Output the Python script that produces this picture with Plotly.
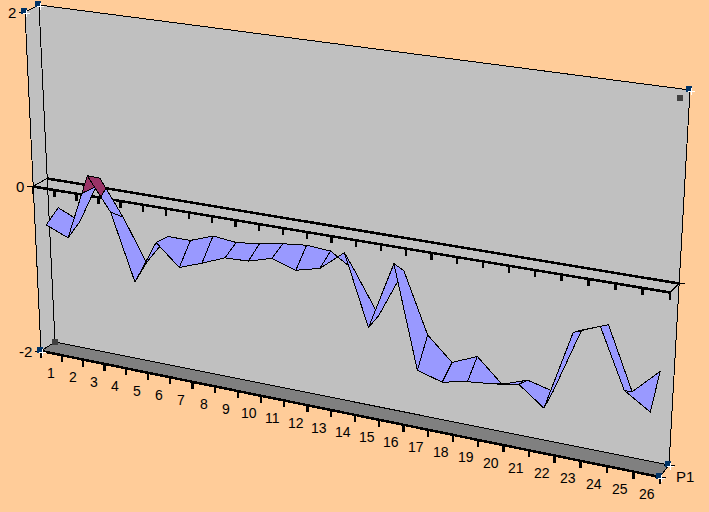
import plotly.graph_objects as go

categories = [str(i) for i in range(1, 27)]
value_ticks = [-2, 0, 2]
series_name = "P1"
front_values = [-0.45, -0.56, 0.22, -0.16, -0.95, -0.43, -0.68, -0.58, -0.47, -0.46, -0.38, -0.47, -0.4, -0.17, -0.98, -0.2, -1.36, -1.44, -1.38, -1.35, -1.3, -1.51, -0.62, -0.5, -1.15, -1.33]
back_values = [-0.33, -0.45, 0.11, -0.31, -0.81, -0.45, -0.45, -0.35, -0.38, -0.35, -0.3, -0.27, -0.29, -0.47, -0.94, -0.37, -1.06, -1.32, -1.2, -1.46, -1.36, -1.43, -0.69, -0.58, -1.27, -0.99]

BG = "#FFCC99"; WALL = "#C0C0C0"; FLOOR = "#808080"
BLUE = "#9999FF"; MAROON = "#993366"; NAVY = "#003366"
FONT = "Liberation Sans"

# Box projection: (left/right, front/back) at each value level
BOX = {2: [((25, 12), (39, 5)), ((680, 98), (690, 90))],
       0: [((33, 186.5), (47, 178.5)), ((670, 292.5), (679, 283.5))],
       -2: [((41, 351), (55, 342)), ((660, 477), (669, 465))]}
D_FRONT, D_BACK = 0.05, 0.95


def level(t, d, l):
    f = t * (0.875 + 0.125 * t)
    (a, b), (c, e) = BOX[l]
    lx, ly = a[0] + (b[0] - a[0]) * d, a[1] + (b[1] - a[1]) * d
    rx, ry = c[0] + (e[0] - c[0]) * d, c[1] + (e[1] - c[1]) * d
    return lx + (rx - lx) * f, ly + (ry - ly) * f


def P(t, d, v):
    a = level(t, d, 0)
    b = level(t, d, 2 if v > 0 else -2)
    k = abs(v) / 2
    return a[0] + (b[0] - a[0]) * k, a[1] + (b[1] - a[1]) * k


fig = go.Figure()


def poly(pts, fill=None, width=1, color="black"):
    xs = [p[0] for p in pts]
    ys = [p[1] for p in pts]
    kw = dict(fill="toself", fillcolor=fill) if fill else {}
    if fill:
        xs.append(xs[0]); ys.append(ys[0])
    fig.add_trace(go.Scatter(x=xs, y=ys, mode="lines", line=dict(color=color, width=width),
                             hoverinfo="skip", showlegend=False, **kw))


# walls and floor
poly([P(0, 0, 2), P(0, 1, 2), P(0, 1, -2), P(0, 0, -2)], WALL)
poly([P(0, 1, 2), P(1, 1, 2), P(1, 1, -2), P(0, 1, -2)], WALL)
poly([P(0, 0, -2), P(0, 1, -2), P(1, 1, -2), P(1, 0, -2)], FLOOR)
poly([P(0, 0, -2), P(1, 0, -2)], width=2.5)

n = len(categories)
# axis ticks on the floor edge and on the zero plane
for i in range(n + 1):
    t = i / n
    x, y = P(t, 0, -2)
    poly([(x, y), (x, y + 7)], width=2.5)
    x, y = P(t, 0, 0)
    poly([(x, y), (x, y + 7)], width=2.5)

# zero plane edges
poly([P(0, 1, 0), P(1, 1, 0)], width=2.5)
poly([P(0, 0, 0), P(1, 0, 0)], width=2.5)
poly([P(0, 0, 0), P(0, 1, 0)])
poly([P(1, 0, 0), P(1, 1, 0)])

# value-axis stubs
for v in value_ticks:
    x, y = P(0, 0, v)
    poly([(x - 6, y), (x, y)])
    fig.add_annotation(x=x - 7, y=y, text=str(v), showarrow=False, xanchor="right", yanchor="middle",
                       font=dict(family=FONT, size=15, color="black"))
x, y = P(1, 1, 0)
poly([(x - 6, y), (x + 6, y)])
x, y = P(1, 0, -2)
poly([(x - 5, y), (x + 6, y)])
x, y = P(1, 1, -2)
poly([(x - 5, y), (x + 6, y)])
fig.add_annotation(x=x + 16, y=y + 11, text=series_name, showarrow=False, xanchor="center", yanchor="middle",
                   font=dict(family=FONT, size=15, color="black"))

# category labels
for i, c in enumerate(categories):
    x, y = P((i + 0.5) / n, 0, -2)
    fig.add_annotation(x=x, y=y + 20, text=c, showarrow=False, xanchor="center", yanchor="middle",
                       font=dict(family=FONT, size=14, color="black"))


def clip(pts, sign):
    out = []
    for k in range(len(pts)):
        a, b = pts[k], pts[(k + 1) % len(pts)]
        ia, ib = sign * a[2] >= 0, sign * b[2] >= 0
        if ia:
            out.append(a)
        if ia != ib:
            r = a[2] / (a[2] - b[2])
            out.append((a[0] + (b[0] - a[0]) * r, a[1] + (b[1] - a[1]) * r, 0.0))
    return out


# surface cells, split at the zero level
for i in range(n - 1):
    t0, t1 = (i + 0.5) / n, (i + 1.5) / n
    corners = [(t0, D_FRONT, front_values[i]), (t0, D_BACK, back_values[i]),
               (t1, D_BACK, back_values[i + 1]), (t1, D_FRONT, front_values[i + 1])]
    q = [(*P(t, d, v), v) for t, d, v in corners]
    for sign, col in ((-1, BLUE), (1, MAROON)):
        part = clip(q, sign)
        if len(part) >= 3:
            poly([(p[0], p[1]) for p in part], col)

# selection handles
corner_ids = [(0, 0, 2), (0, 1, 2), (1, 1, 2), (0, 0, -2), (1, 0, -2), (1, 1, -2)]
hx = [P(*c)[0] for c in corner_ids]
hy = [P(*c)[1] for c in corner_ids]
fig.add_trace(go.Scatter(x=[v - 1 for v in hx], y=[v - 1 for v in hy], mode="markers", hoverinfo="skip", showlegend=False,
                         marker=dict(symbol="square", size=6, color=NAVY)))
fig.add_trace(go.Scatter(x=[v + 1 for v in hx], y=[v + 1 for v in hy], mode="markers", hoverinfo="skip", showlegend=False,
                         marker=dict(symbol="cross-thin", size=5, line=dict(color="white", width=1))))
gc = [(1, 0, 2), (0, 1, -2)]
fig.add_trace(go.Scatter(x=[P(*c)[0] for c in gc], y=[P(*c)[1] for c in gc], mode="markers", hoverinfo="skip", showlegend=False,
                         marker=dict(symbol="square", size=6, color="#404040")))

fig.update_layout(width=709, height=512, margin=dict(l=0, r=0, t=0, b=0), paper_bgcolor=BG, plot_bgcolor=BG,
                  showlegend=False,
                  xaxis=dict(range=[0, 709], visible=False, fixedrange=True),
                  yaxis=dict(range=[512, 0], visible=False, fixedrange=True))
fig.write_html("out.html", config=dict(displayModeBar=False),
               post_script="document.body.style.margin='0';document.body.style.background='%s';"
                           "var s=document.createElement('style');s.textContent='.scatterlayer path{shape-rendering:crispEdges}';"
                           "document.head.appendChild(s);" % BG)
